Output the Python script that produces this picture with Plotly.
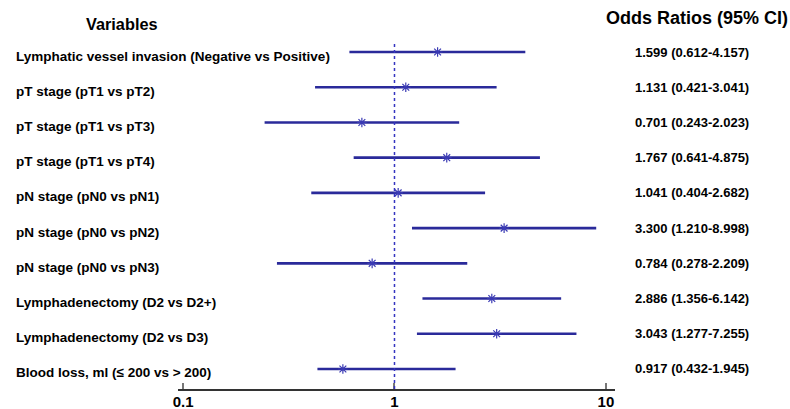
import plotly.graph_objects as go

variables = [
    "Lymphatic vessel invasion (Negative vs Positive)",
    "pT stage (pT1 vs pT2)",
    "pT stage (pT1 vs pT3)",
    "pT stage (pT1 vs pT4)",
    "pN stage (pN0 vs pN1)",
    "pN stage (pN0 vs pN2)",
    "pN stage (pN0 vs pN3)",
    "Lymphadenectomy (D2 vs D2+)",
    "Lymphadenectomy (D2 vs D3)",
    "Blood loss, ml (\u2264 200 vs > 200)",
]
# Reported odds ratios and CIs (text column)
or_reported = [1.599, 1.131, 0.701, 1.767, 1.041, 3.300, 0.784, 2.886, 3.043, 0.917]
ci_low = [0.612, 0.421, 0.243, 0.641, 0.404, 1.210, 0.278, 1.356, 1.277, 0.432]
ci_high = [4.157, 3.041, 2.023, 4.875, 2.682, 8.998, 2.209, 6.142, 7.255, 1.945]
# Marker positions as drawn in the picture (last one is drawn at ~0.57)
or_marker = [1.599, 1.131, 0.701, 1.767, 1.041, 3.300, 0.784, 2.886, 3.043, 0.57]
tick_vals = [0.1, 1, 10]
tick_text = ["0.1", "1", "10"]

FONT = "Liberation Sans, Arial, sans-serif"
rows = list(range(len(variables)))

line_x, line_y = [], []
for i in rows:
    line_x += [ci_low[i], ci_high[i], None]
    line_y += [i, i, None]

fig = go.Figure()
fig.add_trace(go.Scatter(
    x=line_x, y=line_y, mode="lines",
    line=dict(color="#2a2a9a", width=2.6),
    hoverinfo="skip", showlegend=False,
))
fig.add_trace(go.Scatter(
    x=or_marker, y=rows, mode="markers",
    marker=dict(symbol="asterisk-open", size=8, color="#3a3ab4",
                line=dict(color="#3a3ab4", width=1.2)),
    showlegend=False,
))

fig.add_shape(type="line", xref="x", yref="paper", x0=1, x1=1, y0=0, y1=0.992,
              line=dict(color="#3434c0", width=1.5, dash="dot"))

anns = []
for i in rows:
    anns.append(dict(x=-0.375, xref="paper", y=i, yref="y", text=f"<b>{variables[i]}</b>",
                     xanchor="left", yanchor="middle", showarrow=False, yshift=-4,
                     font=dict(family=FONT, size=13.5, color="black")))
    txt = f"{or_reported[i]:.3f} ({ci_low[i]:.3f}-{ci_high[i]:.3f})"
    anns.append(dict(x=1.0412, xref="paper", y=i, yref="y", text=f"<b>{txt}</b>",
                     xanchor="left", yanchor="middle", showarrow=False,
                     font=dict(family=FONT, size=13, color="black")))
anns.append(dict(x=-0.128, xref="paper", y=1.047, yref="paper", text="<b>Variables</b>",
                 xanchor="center", yanchor="middle", showarrow=False,
                 font=dict(family=FONT, size=16.3, color="black")))
anns.append(dict(x=1.1876, xref="paper", y=1.063, yref="paper", text="<b>Odds Ratios (95% CI)</b>",
                 xanchor="center", yanchor="middle", showarrow=False,
                 font=dict(family=FONT, size=18, color="black")))

fig.update_layout(
    width=790, height=409,
    margin=dict(l=178, r=175, t=40, b=20, autoexpand=False),
    paper_bgcolor="white", plot_bgcolor="white",
    annotations=anns,
    xaxis=dict(type="log", range=[-1.024, 1.043], tickvals=tick_vals, ticktext=[f"<b>{t}</b>" for t in tick_text],
               ticks="inside", ticklen=6, tickcolor="#777777", tickwidth=1.5,
               showline=True, linecolor="#333333", linewidth=1.5,
               showgrid=False, zeroline=False, automargin=False,
               ticklabelstandoff=-2,
               tickfont=dict(family=FONT, size=15, color="black")),
    yaxis=dict(range=[9.568, -0.341], showticklabels=False, showgrid=False,
               zeroline=False, showline=False, ticks="", automargin=False),
)

fig.write_html("out.html", config={"displayModeBar": False},
               post_script="document.body.style.margin='0px';document.body.style.padding='0px';")
